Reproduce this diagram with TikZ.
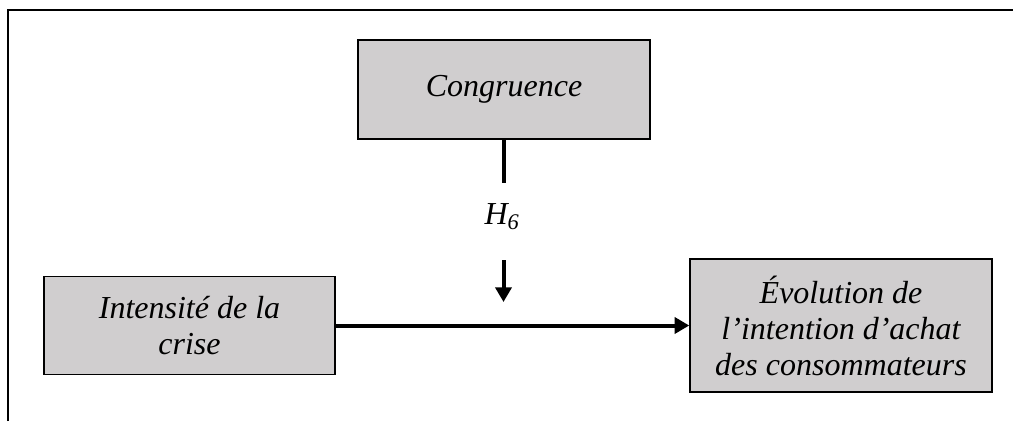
\documentclass[tikz,border=0pt]{standalone}
\usepackage{fontspec}
\setmainfont{Liberation Serif}
\usetikzlibrary{arrows.meta}
\definecolor{boxgray}{HTML}{D0CECF}
\begin{document}
\begin{tikzpicture}[x=0.75pt,y=-0.75pt,
  varbox/.style={draw=black, line width=1.1pt, fill=boxgray, align=center,
    font=\fontsize{24}{27}\selectfont\itshape, inner sep=0pt},
  link/.style={line width=3pt},
  arr/.style={link, -{Triangle[length=11pt,width=12pt]}},
  frameline/.style={line width=1.5pt}]
\useasboundingbox (0,0) rectangle (1013,421);
% outer frame: top and left rules only
\draw[frameline] (8.3,421) -- (8.3,10.3) -- (1013,10.3);
% variables
\node[varbox, minimum width=219pt, minimum height=74.25pt] (congr) at (504,89.5) {Congruence};
\node[varbox, minimum width=218.25pt, minimum height=73.5pt] (crise) at (189.5,325.5) {Intensité de la\\crise};
\node[varbox, minimum width=226.5pt, minimum height=99.75pt] (evol) at (841,325.5) {Évolution de\\l’intention d’achat\\des consommateurs};
% moderating effect
\coordinate (hstop) at (503.5,183);
\coordinate (mstart) at (503.5,260);
\coordinate (mend) at (503.5,302);
\draw[link] (congr.south -| hstop) -- (hstop);
\node[font=\fontsize{24}{27}\selectfont\itshape] (h6) at (502,217) {H\textsubscript{6}};
\draw[arr] (mstart) -- (mend);
% main effect
\draw[arr] (crise.east) -- (evol.west);
\end{tikzpicture}
\end{document}
